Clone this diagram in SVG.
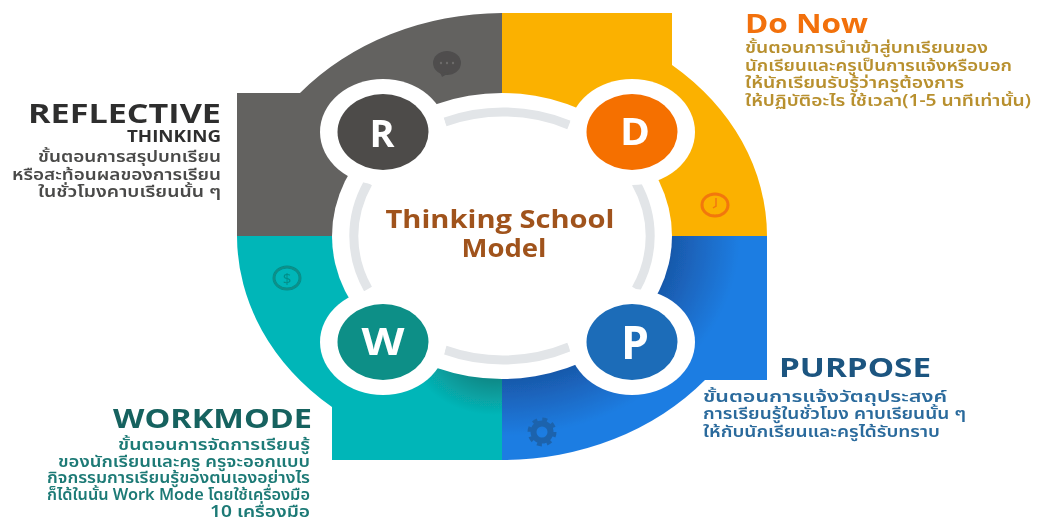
<svg xmlns="http://www.w3.org/2000/svg" width="1038" height="520" viewBox="0 0 1038 520">
<style>
text{font-family:"Noto Sans","Noto Sans Thai","DejaVu Sans",sans-serif}
.h{font-family:"Open Sans","DejaVu Sans",sans-serif;font-weight:700}
.t{font-size:15.5px;font-weight:600}
.l{font-family:"Open Sans","DejaVu Sans",sans-serif;font-weight:700;font-size:38px;fill:#fff;text-anchor:middle}
.arc{fill:none;stroke:#e2e5e8;stroke-width:9}
.halo{fill:#fff}
</style>
<defs>
<radialGradient id="bs" gradientUnits="userSpaceOnUse" cx="0" cy="0" r="200" gradientTransform="translate(502 236) scale(1.19 1)"><stop offset=".7" stop-color="#1857a8"/><stop offset="1" stop-color="#1f7de2"/></radialGradient>
<radialGradient id="ts" gradientUnits="userSpaceOnUse" cx="0" cy="0" r="65" gradientTransform="translate(495 350) scale(1.3 1)"><stop offset=".45" stop-color="#0a8a88"/><stop offset="1" stop-color="#05b6b8"/></radialGradient>
<filter id="soft" x="0" y="0" width="100%" height="100%"><feGaussianBlur stdDeviation="0.45"/></filter>
</defs>
<rect width="1038" height="520" fill="#fff"/>
<g filter="url(#soft)">
<g id="quadrants">
<path d="M237,236V93H300A265,223 0 0 1 502,13V236Z" fill="#636261"/>
<path d="M502,13H672V65A265,223 0 0 1 767,236H502Z" fill="#fbb103"/>
<path d="M502,236H767V380H705A265,223 0 0 1 502,460Z" fill="url(#bs)"/>
<path d="M502,236H237A265,223 0 0 0 332,407V460H502Z" fill="url(#ts)"/>
</g>
<g id="center">
<ellipse cx="502" cy="236" rx="170" ry="143" fill="#fff"/>
<path class="arc" d="M445,122A148,124 0 0 1 569,125"/>
<path class="arc" d="M445,350A148,124 0 0 0 569,347"/>
<path class="arc" d="M368,183A148,124 0 0 0 368,289"/>
<path class="arc" d="M636,183A148,124 0 0 1 636,289"/>
<text class="h" x="500" y="228" font-size="25" fill="#a0531a" text-anchor="middle" textLength="229" lengthAdjust="spacingAndGlyphs">Thinking School</text>
<text class="h" x="504" y="257" font-size="25" fill="#a0531a" text-anchor="middle" textLength="85" lengthAdjust="spacingAndGlyphs">Model</text>
</g>
<g id="node-r"><ellipse class="halo" cx="383" cy="132" rx="63" ry="53"/><ellipse cx="383" cy="132" rx="45.5" ry="38" fill="#4d4c4a"/><text class="l" x="382" y="147" textLength="25" lengthAdjust="spacingAndGlyphs">R</text></g>
<g id="node-d"><ellipse class="halo" cx="632" cy="132" rx="63" ry="53"/><ellipse cx="632" cy="132" rx="45.5" ry="38" fill="#f56f03"/><text class="l" x="635" y="145" textLength="30" lengthAdjust="spacingAndGlyphs">D</text></g>
<g id="node-w"><ellipse class="halo" cx="383" cy="342" rx="63" ry="53"/><ellipse cx="383" cy="342" rx="45.5" ry="38" fill="#0b8f87"/><text class="l" x="383" y="355" textLength="43" lengthAdjust="spacingAndGlyphs">W</text></g>
<g id="node-p"><ellipse class="halo" cx="632" cy="342" rx="63" ry="53"/><ellipse cx="632" cy="342" rx="45.5" ry="38" fill="#1b6cb8"/><text class="l" x="635" y="359" style="font-size:46px" textLength="28" lengthAdjust="spacingAndGlyphs">P</text></g>
<g id="icons">
<g id="icon-chat"><ellipse cx="447" cy="63" rx="14" ry="12" fill="#4f4e4d"/><path d="M440,72l2,5 7,-4z" fill="#4f4e4d"/><circle cx="441" cy="63" r="1.2" fill="#6d6c6b"/><circle cx="447" cy="63" r="1.2" fill="#6d6c6b"/><circle cx="453" cy="63" r="1.2" fill="#6d6c6b"/></g>
<g id="icon-clock"><ellipse cx="715" cy="205" rx="13" ry="11" fill="none" stroke="#f2770a" stroke-width="3"/><path d="M716,198v8l-3,2" fill="none" stroke="#f2770a" stroke-width="1.5"/></g>
<g id="icon-dollar"><ellipse cx="287" cy="278" rx="13" ry="11" fill="none" stroke="#078f8a" stroke-width="3"/><text x="287" y="284" font-size="15" fill="#078f8a" text-anchor="middle">$</text></g>
<g id="icon-gear"><circle cx="542" cy="432" r="8.5" fill="none" stroke="#1b64ad" stroke-width="6"/><circle cx="542" cy="432" r="12.5" fill="none" stroke="#1b64ad" stroke-width="4" stroke-dasharray="4.9 4.9"/></g>
</g>
<g id="label-do" fill="#b8902f">
<text class="h" x="745" y="33" font-size="26" fill="#f26f07" textLength="123" lengthAdjust="spacingAndGlyphs">Do Now</text>
<text class="t" x="745" y="53" textLength="243" lengthAdjust="spacingAndGlyphs">ขั้นตอนการนำเข้าสู่บทเรียนของ</text>
<text class="t" x="745" y="71" textLength="267" lengthAdjust="spacingAndGlyphs">นักเรียนและครูเป็นการแจ้งหรือบอก</text>
<text class="t" x="745" y="88" textLength="219" lengthAdjust="spacingAndGlyphs">ให้นักเรียนรับรู้ว่าครูต้องการ</text>
<text class="t" x="745" y="106" textLength="286" lengthAdjust="spacingAndGlyphs">ให้ปฏิบัติอะไร ใช้เวลา(1-5 นาทีเท่านั้น)</text>
</g>
<g id="label-reflective" fill="#4a4a48" text-anchor="end">
<text class="h" x="221" y="123" font-size="26" fill="#2f2f2e" textLength="193" lengthAdjust="spacingAndGlyphs">REFLECTIVE</text>
<text class="h" x="221" y="142" font-size="16" fill="#2f2f2e" textLength="94" lengthAdjust="spacingAndGlyphs">THINKING</text>
<text class="t" x="221" y="162" textLength="183" lengthAdjust="spacingAndGlyphs">ขั้นตอนการสรุปบทเรียน</text>
<text class="t" x="221" y="180" textLength="209" lengthAdjust="spacingAndGlyphs">หรือสะท้อนผลของการเรียน</text>
<text class="t" x="221" y="197" textLength="183" lengthAdjust="spacingAndGlyphs">ในชั่วโมงคาบเรียนนั้น ๆ</text>
</g>
<g id="label-workmode" fill="#1d7a76" text-anchor="end">
<text class="h" x="312" y="428" font-size="27" fill="#17625f" textLength="199" lengthAdjust="spacingAndGlyphs">WORKMODE</text>
<text class="t" x="310" y="450" textLength="192" lengthAdjust="spacingAndGlyphs">ขั้นตอนการจัดการเรียนรู้</text>
<text class="t" x="310" y="467" textLength="252" lengthAdjust="spacingAndGlyphs">ของนักเรียนและครู ครูจะออกแบบ</text>
<text class="t" x="310" y="483" textLength="263" lengthAdjust="spacingAndGlyphs">กิจกรรมการเรียนรู้ของตนเองอย่างไร</text>
<text class="t" x="310" y="500" textLength="263" lengthAdjust="spacingAndGlyphs">ก็ได้ในนั้น Work Mode โดยใช้เครื่องมือ</text>
<text class="t" x="310" y="517" textLength="100" lengthAdjust="spacingAndGlyphs">10 เครื่องมือ</text>
</g>
<g id="label-purpose" fill="#2a6a9c">
<text class="h" x="779" y="377" font-size="27" fill="#1c5480" textLength="152" lengthAdjust="spacingAndGlyphs">PURPOSE</text>
<text class="t" x="703" y="402" textLength="244" lengthAdjust="spacingAndGlyphs">ขั้นตอนการแจ้งวัตถุประสงค์</text>
<text class="t" x="703" y="419" textLength="263" lengthAdjust="spacingAndGlyphs">การเรียนรู้ในชั่วโมง คาบเรียนนั้น ๆ</text>
<text class="t" x="703" y="437" textLength="237" lengthAdjust="spacingAndGlyphs">ให้กับนักเรียนและครูได้รับทราบ</text>
</g>
</g>
</svg>
